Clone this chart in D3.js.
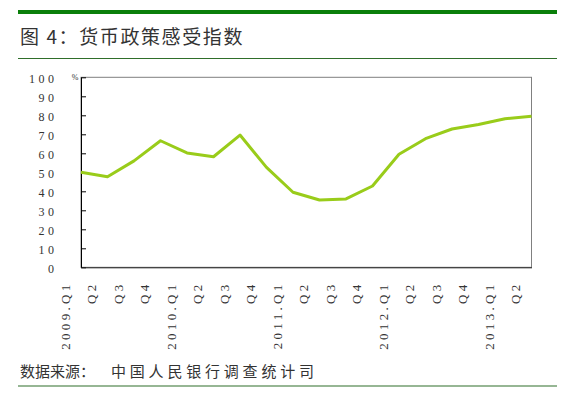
<!DOCTYPE html>
<html lang="zh">
<head>
<meta charset="UTF-8">
<title>货币政策感受指数</title>
<script src="https://d3js.org/d3.v7.min.js"></script>
<style>
  html, body { margin: 0; padding: 0; background: #fff; }
  svg { display: block; }
  .num { font-family: "Liberation Serif", "DejaVu Serif", serif; fill: #333; }
  .cjk { font-family: "Noto Sans CJK SC", sans-serif; fill: #333; }
</style>
</head>
<body>
<svg width="569" height="393"></svg>
<script>
// 数据
const categories = ["2009.Q1", "Q2", "Q3", "Q4", "2010.Q1", "Q2", "Q3", "Q4",
                    "2011.Q1", "Q2", "Q3", "Q4", "2012.Q1", "Q2", "Q3", "Q4",
                    "2013.Q1", "Q2"];
const values = [50, 47.7, 56, 66.6, 60.2, 58.2, 69.6, 52.6, 39.5, 35.4,
                36, 42.8, 59.5, 67.7, 72.8, 75.2, 78.2, 79.5];
const yTicks = [0, 10, 20, 30, 40, 50, 60, 70, 80, 90, 100];

const title = "图 4：货币政策感受指数";
const sourceHead = "数据来源：";
const sourceBody = "中国人民银行调查统计司";

const svg = d3.select("svg");

// 绘图区
const plotLeft = 81, plotRight = 531.5, plotTop = 77.3, plotBottom = 267.3;

const x = d3.scalePoint().domain(d3.range(categories.length)).range([plotLeft, plotRight]);
const y = d3.scaleLinear().domain([0, 100]).range([plotBottom, plotTop]);

// 顶部粗线、标题、细线
svg.append("rect").attr("x", 18).attr("y", 10).attr("width", 539).attr("height", 4)
    .attr("fill", "#0a7f0a");
svg.append("text").attr("class", "cjk").attr("x", 20).attr("y", 44)
    .attr("font-size", "19px").attr("letter-spacing", "1.6px")
    .text(title);
svg.append("line").attr("x1", 18).attr("x2", 557).attr("y1", 58.5).attr("y2", 58.5)
    .attr("stroke", "#2f6e2a").attr("stroke-width", 1.2);

// 边框（上、右为灰色）
svg.append("rect").attr("x", plotLeft).attr("y", plotTop)
    .attr("width", plotRight - plotLeft).attr("height", plotBottom - plotTop)
    .attr("fill", "none").attr("stroke", "#808080").attr("stroke-width", 1);

// Y轴
const yAxis = d3.axisLeft(y).tickValues(yTicks).tickSizeInner(-5).tickSizeOuter(0).tickFormat("");
const gy = svg.append("g").attr("transform", `translate(${plotLeft},0)`).call(yAxis);
gy.selectAll("path, line").attr("stroke", "#000");

svg.selectAll(".ylab").data(yTicks).enter().append("text")
    .attr("class", "num ylab")
    .attr("x", 57.5)
    .attr("y", d => y(d) + 1.5)
    .attr("dy", "0.35em")
    .attr("text-anchor", "end")
    .attr("font-size", "12px")
    .attr("letter-spacing", "3.5px")
    .text(d => d);

svg.append("text").attr("class", "num").attr("x", 75).attr("y", 77)
    .attr("dy", "0.35em").attr("text-anchor", "middle").attr("font-size", "8px")
    .text("%");

// X轴
const gx = svg.append("g").attr("transform", `translate(0,${plotBottom})`)
    .call(d3.axisBottom(x).tickSize(0).tickFormat(""));
gx.select(".domain").attr("stroke", "#222");

svg.selectAll(".xlab").data(categories).enter().append("text")
    .attr("class", "num xlab")
    .attr("transform", (d, i) => `translate(${x(i) - 16},281.5) rotate(-90)`)
    .attr("dy", "0.35em")
    .attr("text-anchor", "end")
    .attr("font-size", "13px")
    .attr("letter-spacing", "3.3px")
    .text(d => d);

// 折线
const line = d3.line().x((d, i) => x(i)).y(d => y(d));
svg.append("path").datum(values)
    .attr("d", line)
    .attr("fill", "none")
    .attr("stroke", "#99cc1a")
    .attr("stroke-width", 3)
    .attr("stroke-linejoin", "round");

// 数据来源
const src = svg.append("text").attr("class", "cjk").attr("x", 20).attr("y", 377)
    .attr("font-size", "15px");
src.append("tspan").text(sourceHead);
src.append("tspan").attr("x", 111).attr("letter-spacing", "3.8px").text(sourceBody);

svg.append("line").attr("x1", 18).attr("x2", 557).attr("y1", 386).attr("y2", 386)
    .attr("stroke", "#2f6e2a").attr("stroke-width", 1.2);
</script>
</body>
</html>
